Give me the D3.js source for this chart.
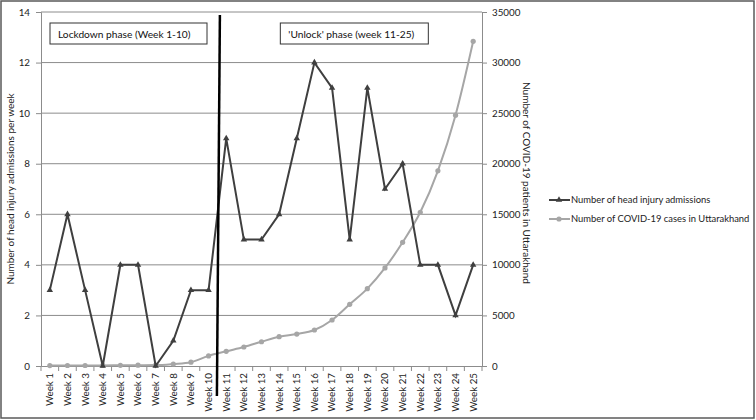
<!DOCTYPE html>
<html>
<head>
<meta charset="utf-8">
<script src="https://cdn.jsdelivr.net/npm/d3@7"></script>
<style>
  body { margin: 0; background: #fff; }
  svg { font-family: Lato, "Liberation Sans", Arial, sans-serif; }
</style>
</head>
<body>
<div id="chart"></div>
<script>
const weeks = d3.range(1, 26).map(d => 'Week ' + d);
const headInjuries = [3, 6, 3, 0, 4, 4, 0, 1, 3, 3, 9, 5, 5, 6, 9, 12, 11, 5, 11, 7, 8, 4, 4, 2, 4];
const covidCases = [40, 50, 50, 60, 70, 80, 90, 200, 380, 1000, 1450, 1880, 2400, 2900, 3160, 3560,
  4550, 6100, 7650, 9700, 12230, 15200, 19300, 24800, 32100];
const leftTicks = [0, 2, 4, 6, 8, 10, 12, 14];
const rightTicks = [0, 5000, 10000, 15000, 20000, 25000, 30000, 35000];
const seriesNames = ['Number of head injury admissions', 'Number of COVID-19 cases in Uttarakhand'];

const width = 756, height = 420;
const margin = {top: 12, right: 274, bottom: 54, left: 41};
const innerW = width - margin.left - margin.right;
const innerH = height - margin.top - margin.bottom;
const font = 'Lato, "Liberation Sans", Arial, sans-serif';

const svg = d3.select('#chart').append('svg')
  .attr('width', width).attr('height', height);

// outer frame
svg.append('rect')
  .attr('x', 1).attr('y', 1).attr('width', width - 3).attr('height', height - 3)
  .attr('fill', 'none').attr('stroke', '#5a5a5a').attr('stroke-width', 1.5);

const g = svg.append('g').attr('transform', `translate(${margin.left},${margin.top})`);

const x = d3.scaleBand().domain(weeks).range([0, innerW]);
const yL = d3.scaleLinear().domain([0, 14]).range([innerH, 0]);
const yR = d3.scaleLinear().domain([0, 35000]).range([innerH, 0]);
const cx = d => x(d) + x.bandwidth() / 2;

// gridlines
g.selectAll('.grid').data(leftTicks.slice(1))
  .enter().append('line')
  .attr('x1', 0).attr('x2', innerW)
  .attr('y1', d => yL(d)).attr('y2', d => yL(d))
  .attr('stroke', '#8c8c8c').attr('stroke-width', 1);

// left axis
const leftAxis = g.append('g')
  .call(d3.axisLeft(yL).tickValues(leftTicks).tickSize(5).tickPadding(6));
// right axis
const rightAxis = g.append('g').attr('transform', `translate(${innerW},0)`)
  .call(d3.axisRight(yR).tickValues(rightTicks).tickFormat(d3.format('d')).tickSize(5).tickPadding(5));
// bottom axis, ticks between categories
const bottomAxis = g.append('g').attr('transform', `translate(0,${innerH})`)
  .call(d3.axisBottom(x).tickSize(0).tickPadding(0));
bottomAxis.selectAll('text')
  .attr('transform', 'rotate(-90)')
  .attr('x', -7).attr('y', 0).attr('dy', '0.35em')
  .style('text-anchor', 'end');
bottomAxis.selectAll('.sep').data(d3.range(weeks.length + 1))
  .enter().append('line').attr('class', 'sep')
  .attr('x1', i => i * x.step()).attr('x2', i => i * x.step())
  .attr('y1', 0).attr('y2', 5).attr('stroke', '#8c8c8c');

[leftAxis, rightAxis, bottomAxis].forEach(a => {
  a.select('.domain').attr('stroke', '#8c8c8c');
  a.selectAll('.tick line').attr('stroke', '#8c8c8c');
  a.selectAll('text').attr('fill', '#222').style('font-size', '9.8px')
    .style('font-family', font);
});

// axis titles
svg.append('text')
  .attr('transform', `translate(14,${margin.top + innerH / 2}) rotate(-90)`)
  .attr('text-anchor', 'middle').style('font-size', '10px').attr('fill', '#222')
  .text('Number of head injury admissions per week');
svg.append('text')
  .attr('transform', `translate(523,${margin.top + innerH / 2 - 6}) rotate(90)`)
  .attr('text-anchor', 'middle').style('font-size', '10px').attr('fill', '#222')
  .text('Number of COVID-19 patients in Uttarakhand');

// covid series (smoothed)
const covidLine = d3.line().x((d, i) => cx(weeks[i])).y(d => yR(d)).curve(d3.curveMonotoneX);
g.append('path').datum(covidCases)
  .attr('d', covidLine).attr('fill', 'none').attr('stroke', '#a6a6a6').attr('stroke-width', 2);
g.selectAll('.cdot').data(covidCases).enter().append('circle')
  .attr('cx', (d, i) => cx(weeks[i])).attr('cy', d => yR(d)).attr('r', 2.6)
  .attr('fill', '#a6a6a6');

// head injury series
const headLine = d3.line().x((d, i) => cx(weeks[i])).y(d => yL(d));
g.append('path').datum(headInjuries)
  .attr('d', headLine).attr('fill', 'none').attr('stroke', '#3f3f3f').attr('stroke-width', 2);
const tri = d3.symbol().type(d3.symbolTriangle).size(18);
g.selectAll('.hdot').data(headInjuries).enter().append('path')
  .attr('transform', (d, i) => `translate(${cx(weeks[i])},${yL(d)})`)
  .attr('d', tri).attr('fill', '#3f3f3f');

// phase divider between week 10 and 11
const divX = x(weeks[10]);
g.append('line')
  .attr('x1', divX + 2.5).attr('y1', 3)
  .attr('x2', divX - 0.5).attr('y2', innerH + 30)
  .attr('stroke', '#000').attr('stroke-width', 2.5);

// phase boxes
function phaseBox(x0, w, label) {
  g.append('rect').attr('x', x0).attr('y', 11).attr('width', w).attr('height', 21)
    .attr('fill', '#fff').attr('stroke', '#333').attr('stroke-width', 1);
  g.append('text').attr('x', x0 + 8).attr('y', 25.5)
    .style('font-size', '10.2px').attr('fill', '#111').text(label);
}
phaseBox(x(weeks[0]) + 9, 157, 'Lockdown phase (Week 1-10)');
phaseBox(x(weeks[13]) + 10, 148, "'Unlock' phase (week 11-25)");

// legend
const legend = svg.append('g').attr('transform', 'translate(549,200)');
seriesNames.forEach((name, i) => {
  const row = legend.append('g').attr('transform', `translate(0,${i * 19})`);
  row.append('line').attr('x1', 0).attr('x2', 21).attr('y1', 0).attr('y2', 0)
    .attr('stroke', i === 0 ? '#3f3f3f' : '#a6a6a6').attr('stroke-width', 2);
  if (i === 0) {
    row.append('path').attr('d', tri).attr('transform', 'translate(10,0)').attr('fill', '#3f3f3f');
  } else {
    row.append('circle').attr('cx', 10).attr('cy', 0).attr('r', 2.6).attr('fill', '#a6a6a6');
  }
  row.append('text').attr('x', 22).attr('y', 0).attr('dy', '0.35em')
    .style('font-size', '9.4px').attr('fill', '#222').text(name);
});
</script>
</body>
</html>
